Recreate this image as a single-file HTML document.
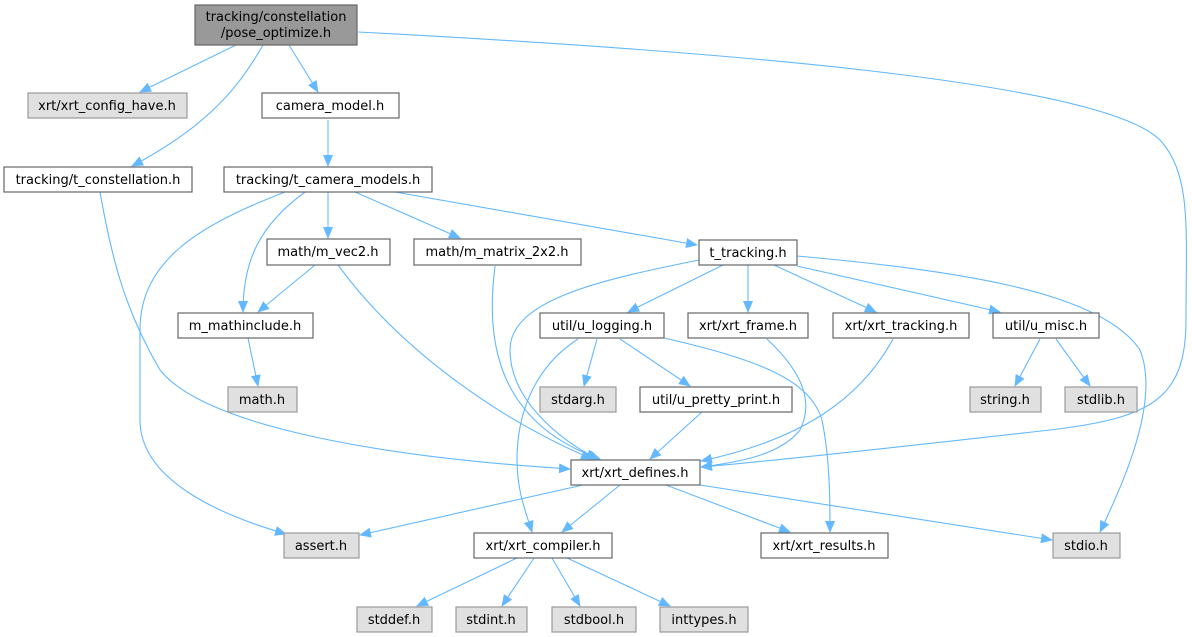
<!DOCTYPE html>
<html><head><meta charset="utf-8"><style>
html,body{margin:0;padding:0;background:#fff;}
svg{display:block;}
text{font-family:"DejaVu Sans","Liberation Sans",sans-serif;font-size:13px;fill:#000;text-anchor:middle;}
.e{fill:none;stroke:#63b8ff;stroke-width:1.1;marker-end:url(#a);}
.w{fill:#fff;stroke:#666;stroke-width:1.2;}
.g{fill:#e0e0e0;stroke:#999;stroke-width:1.2;}
</style></head><body>
<svg width="1192" height="637" viewBox="0 0 1192 637" xmlns="http://www.w3.org/2000/svg">
<defs><marker id="a" markerWidth="12" markerHeight="10" refX="11" refY="5" orient="auto" markerUnits="userSpaceOnUse"><path d="M0,0 L12,5 L0,10 z" fill="#63b8ff"/></marker></defs>
<path class="e" d="M236,45 L140,92"/>
<path class="e" d="M263,45 C240,85 210,125 132,166"/>
<path class="e" d="M289,45 L318,92"/>
<path class="e" d="M358,32 C700,50 1100,80 1160,140 C1192,175 1186,230 1186,320 C1186,400 1150,418 1050,430 C900,447 760,462 701,467"/>
<path class="e" d="M328,120 L328,166"/>
<path class="e" d="M100,192 C112,260 125,310 160,370 C200,420 350,455 570,469"/>
<path class="e" d="M285,192 C200,225 140,260 140,330 L140,420 C140,480 220,515 286,534"/>
<path class="e" d="M305,192 C260,225 243,260 243,312"/>
<path class="e" d="M328,192 L328,238"/>
<path class="e" d="M355,192 L460,238"/>
<path class="e" d="M395,192 L697,245"/>
<path class="e" d="M315,265 L258,312"/>
<path class="e" d="M338,265 C400,350 500,420 592,459"/>
<path class="e" d="M495,266 C487,330 490,420 600,459"/>
<path class="e" d="M248,338 L258,386"/>
<path class="e" d="M699,260 C600,280 510,300 510,350 C510,400 560,440 597,459"/>
<path class="e" d="M723,265 L628,312"/>
<path class="e" d="M748,265 L748,312"/>
<path class="e" d="M774,265 L876,312"/>
<path class="e" d="M797,266 L1000,312"/>
<path class="e" d="M797,256 C950,270 1100,290 1140,350 C1160,400 1125,480 1100,532"/>
<path class="e" d="M578,339 C530,370 517,420 517,460 C517,490 525,510 532,532"/>
<path class="e" d="M597,339 L584,386"/>
<path class="e" d="M620,339 L690,386"/>
<path class="e" d="M664,338 C760,360 810,380 822,420 C830,460 830,500 830,532"/>
<path class="e" d="M767,339 C800,370 815,400 800,430 C780,455 740,462 701,467"/>
<path class="e" d="M893,339 C860,400 800,440 701,461"/>
<path class="e" d="M1040,339 L1015,386"/>
<path class="e" d="M1056,339 L1090,386"/>
<path class="e" d="M702,412 L650,459"/>
<path class="e" d="M583,485 L360,535"/>
<path class="e" d="M620,485 L562,532"/>
<path class="e" d="M666,485 L790,532"/>
<path class="e" d="M700,485 L1052,540"/>
<path class="e" d="M517,558 L417,606"/>
<path class="e" d="M534,558 L502,606"/>
<path class="e" d="M552,558 L580,606"/>
<path class="e" d="M567,558 L670,606"/>
<rect x="195" y="5" width="162" height="40" fill="#999" stroke="#666" stroke-width="1.2"/>
<text x="276" y="21">tracking/constellation</text><text x="276" y="37">/pose_optimize.h</text>
<rect class="g" x="28" y="93" width="159" height="25"/><text x="107" y="110">xrt/xrt_config_have.h</text>
<rect class="w" x="262" y="93" width="137" height="25"/><text x="330" y="110">camera_model.h</text>
<rect class="w" x="4" y="167" width="188" height="25"/><text x="98" y="184">tracking/t_constellation.h</text>
<rect class="w" x="224" y="167" width="208" height="25"/><text x="328" y="184">tracking/t_camera_models.h</text>
<rect class="w" x="267" y="239" width="123" height="26"/><text x="328" y="256">math/m_vec2.h</text>
<rect class="w" x="414" y="239" width="167" height="26"/><text x="497" y="256">math/m_matrix_2x2.h</text>
<rect class="w" x="699" y="240" width="98" height="25"/><text x="748" y="257">t_tracking.h</text>
<rect class="w" x="178" y="313" width="135" height="25"/><text x="245" y="330">m_mathinclude.h</text>
<rect class="w" x="540" y="313" width="124" height="25"/><text x="602" y="330">util/u_logging.h</text>
<rect class="w" x="688" y="313" width="120" height="25"/><text x="748" y="330">xrt/xrt_frame.h</text>
<rect class="w" x="833" y="313" width="136" height="25"/><text x="901" y="330">xrt/xrt_tracking.h</text>
<rect class="w" x="993" y="313" width="106" height="25"/><text x="1046" y="330">util/u_misc.h</text>
<rect class="g" x="228" y="387" width="69" height="25"/><text x="262" y="404">math.h</text>
<rect class="g" x="540" y="387" width="76" height="25"/><text x="578" y="404">stdarg.h</text>
<rect class="w" x="640" y="387" width="152" height="25"/><text x="716" y="404">util/u_pretty_print.h</text>
<rect class="g" x="970" y="387" width="71" height="25"/><text x="1005" y="404">string.h</text>
<rect class="g" x="1065" y="387" width="72" height="25"/><text x="1101" y="404">stdlib.h</text>
<rect class="w" x="571" y="460" width="129" height="25"/><text x="635" y="477">xrt/xrt_defines.h</text>
<rect class="g" x="284" y="533" width="75" height="25"/><text x="321" y="550">assert.h</text>
<rect class="w" x="474" y="533" width="138" height="25"/><text x="543" y="550">xrt/xrt_compiler.h</text>
<rect class="w" x="761" y="533" width="127" height="25"/><text x="824" y="550">xrt/xrt_results.h</text>
<rect class="g" x="1053" y="533" width="67" height="25"/><text x="1086" y="550">stdio.h</text>
<rect class="g" x="357" y="607" width="75" height="25"/><text x="394" y="624">stddef.h</text>
<rect class="g" x="456" y="607" width="71" height="25"/><text x="491" y="624">stdint.h</text>
<rect class="g" x="552" y="607" width="84" height="25"/><text x="594" y="624">stdbool.h</text>
<rect class="g" x="660" y="607" width="88" height="25"/><text x="704" y="624">inttypes.h</text>
</svg>
</body></html>
